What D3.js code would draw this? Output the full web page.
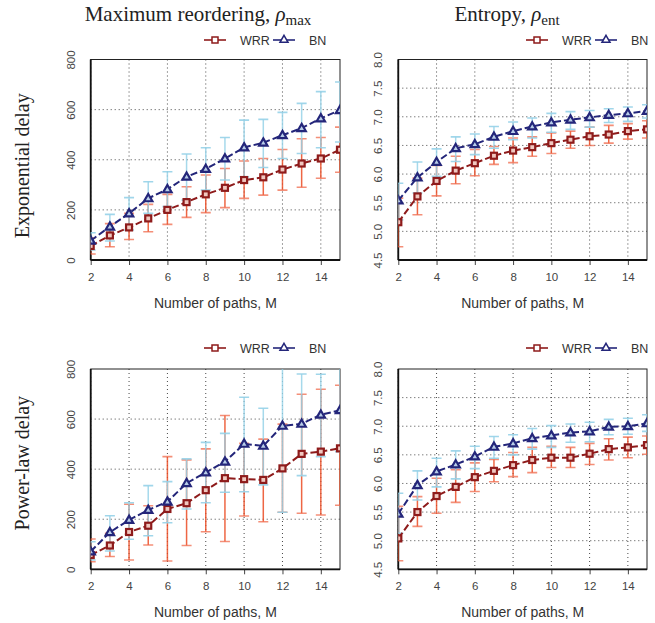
<!DOCTYPE html>
<html><head><meta charset="utf-8">
<script src="https://cdn.jsdelivr.net/npm/d3@7"></script>
<style>
body{margin:0;background:#fff;}
svg{display:block;}
</style></head>
<body><svg id="c" width="655" height="623"></svg>
<script>
const M = [2,3,4,5,6,7,8,9,10,11,12,13,14,15];
const xTicks = [2,4,6,8,10,12,14];
const maxTicks = [0,200,400,600,800];
const entTicks = [4.5,5.0,5.5,6.0,6.5,7.0,7.5,8.0];
const seriesNames = ["WRR","BN"];
const colTitles = ["Maximum reordering, ", "Entropy, "];
const colSubs = ["max","ent"];
const rowTitles = ["Exponential delay","Power-law delay"];
const xLabel = "Number of paths, M";

// Exponential delay, maximum reordering
const expMaxWrr   = [56,98,130,166,200,231,262,288,319,330,361,385,405,440];
const expMaxWrrLo = [24,53,82,113,142,170,189,209,246,259,279,290,326,350];
const expMaxWrrHi = [88,145,186,222,262,292,339,365,395,405,441,484,489,530];
const expMaxBn    = [77,133,186,246,282,332,363,405,449,468,498,526,565,598];
const expMaxBnLo  = [40,76,120,186,213,239,279,319,332,369,405,425,448,471];
const expMaxBnHi  = [109,182,249,312,352,423,448,489,558,561,589,625,672,710];
// Exponential delay, entropy
const expEntWrr   = [5.16,5.61,5.88,6.06,6.19,6.32,6.41,6.47,6.54,6.60,6.66,6.69,6.75,6.78];
const expEntWrrLo = [4.73,5.29,5.62,5.83,5.97,6.17,6.20,6.31,6.36,6.45,6.50,6.54,6.61,6.63];
const expEntWrrHi = [5.58,5.93,6.15,6.31,6.43,6.48,6.63,6.65,6.72,6.75,6.82,6.85,6.88,6.93];
const expEntBn    = [5.54,5.94,6.21,6.45,6.52,6.65,6.75,6.83,6.90,6.95,6.99,7.03,7.06,7.10];
const expEntBnLo  = [5.20,5.67,5.96,6.22,6.34,6.45,6.60,6.63,6.73,6.78,6.82,6.90,6.92,6.98];
const expEntBnHi  = [5.84,6.21,6.44,6.65,6.70,6.83,6.91,6.98,7.06,7.09,7.11,7.14,7.17,7.21];
// Power-law delay, maximum reordering
const powMaxWrr   = [57,95,149,174,241,264,316,364,360,357,403,461,470,483];
const powMaxWrrLo = [30,51,37,97,33,95,150,111,213,190,228,224,217,256];
const powMaxWrrHi = [121,144,260,254,450,437,481,614,503,520,580,699,719,735];
const powMaxBn    = [71,148,197,237,270,344,387,430,501,493,573,581,617,635];
const powMaxBnLo  = [37,73,120,134,186,241,266,308,310,337,228,374,450,470];
const powMaxBnHi  = [110,214,266,334,350,441,507,543,687,643,810,780,779,820];
// Power-law delay, entropy
const powEntWrr   = [5.04,5.50,5.78,5.94,6.11,6.22,6.32,6.41,6.45,6.45,6.52,6.60,6.63,6.67];
const powEntWrrLo = [4.65,5.25,5.48,5.67,5.86,6.03,6.12,6.19,6.28,6.28,6.33,6.41,6.45,6.51];
const powEntWrrHi = [5.60,5.77,6.09,6.24,6.36,6.42,6.54,6.63,6.65,6.63,6.70,6.78,6.81,6.83];
const powEntBn    = [5.47,5.97,6.21,6.33,6.47,6.64,6.70,6.79,6.84,6.89,6.91,6.99,7.00,7.05];
const powEntBnLo  = [5.13,5.71,5.94,6.08,6.26,6.44,6.50,6.60,6.63,6.72,6.73,6.85,6.86,6.91];
const powEntBnHi  = [5.83,6.22,6.44,6.57,6.65,6.82,6.85,6.96,7.01,7.04,7.07,7.12,7.14,7.20];

const svg = d3.select("#c");
const SANS = "'Liberation Sans', Arial, sans-serif";
const SERIF = "'Liberation Serif', 'Times New Roman', serif";
const col = {
  wrrLine:"#8e1b1b", wrrErr:"rgba(235,75,35,0.85)", wrrCap:"rgba(240,105,75,0.75)", wrrFill:"#f0c8c0",
  bnLine:"#24267a", bnErr:"rgba(150,210,232,0.85)", bnCap:"rgba(150,210,232,0.9)", bnFill:"#b8cde8"
};

const panels = [
  {r:0,c:0,dom:[0,800],ticks:maxTicks,fmt:d3.format("d"),s:[[expMaxWrr,expMaxWrrLo,expMaxWrrHi],[expMaxBn,expMaxBnLo,expMaxBnHi]]},
  {r:0,c:1,dom:[4.5,8.0],ticks:entTicks,fmt:d3.format(".1f"),s:[[expEntWrr,expEntWrrLo,expEntWrrHi],[expEntBn,expEntBnLo,expEntBnHi]]},
  {r:1,c:0,dom:[0,800],ticks:maxTicks,fmt:d3.format("d"),s:[[powMaxWrr,powMaxWrrLo,powMaxWrrHi],[powMaxBn,powMaxBnLo,powMaxBnHi]]},
  {r:1,c:1,dom:[4.5,8.0],ticks:entTicks,fmt:d3.format(".1f"),s:[[powEntWrr,powEntWrrLo,powEntWrrHi],[powEntBn,powEntBnLo,powEntBnHi]]}
];
const colX = [[90.7,340],[398.3,647]];
const rowY = [[59.5,260],[369,569.3]];
const titleCx = [198,507];

// column titles
colTitles.forEach((t,i)=>{
  const tx = svg.append("text").attr("x",titleCx[i]).attr("y",21).attr("text-anchor","middle")
    .attr("font-family",SERIF).attr("font-size",21).attr("fill","#222");
  tx.append("tspan").text(t);
  tx.append("tspan").attr("font-style","italic").text("ρ");
  tx.append("tspan").attr("font-size",15).attr("dy",4).text(colSubs[i]);
});
// row titles
rowTitles.forEach((t,i)=>{
  const cy = (rowY[i][0]+rowY[i][1])/2 + (i===0?6:-6);
  svg.append("text").attr("transform",`translate(29,${cy}) rotate(-90)`).attr("text-anchor","middle")
    .attr("font-family",SERIF).attr("font-size",20).attr("fill","#222").text(t);
});

panels.forEach((p,pi)=>{
  const [x0,x1] = colX[p.c], [y0,y1] = rowY[p.r];
  const x = d3.scaleLinear().domain([2,15]).range([x0,x1]);
  const y = d3.scaleLinear().domain(p.dom).range([y1,y0]);
  const g = svg.append("g");
  const clipId = "clip"+pi;
  svg.append("clipPath").attr("id",clipId).append("rect").attr("x",x0).attr("y",y0).attr("width",x1-x0).attr("height",y1-y0);

  // grid
  const grid = g.append("g").attr("stroke","#333").attr("stroke-width",0.9).attr("stroke-dasharray","1,3");
  xTicks.forEach(t=>grid.append("line").attr("x1",x(t)).attr("x2",x(t)).attr("y1",y0).attr("y2",y1));
  p.ticks.slice(1,-1).forEach(t=>grid.append("line").attr("x1",x0).attr("x2",x1).attr("y1",y(t)).attr("y2",y(t)));

  // axes
  const xa = g.append("g").attr("transform",`translate(0,${y1})`)
    .call(d3.axisBottom(x).tickValues(xTicks).tickSize(5).tickPadding(8).tickFormat(d3.format("d")));
  xa.select(".domain").remove();
  xa.selectAll("line").attr("stroke","#444");
  xa.selectAll("text").attr("font-family",SANS).attr("font-size",11.5).attr("fill","#444");
  const ya = g.append("g").attr("transform",`translate(${x0},0)`)
    .call(d3.axisLeft(y).tickValues(p.ticks).tickSize(0).tickPadding(0).tickFormat(p.fmt));
  ya.select(".domain").remove();
  ya.selectAll("text").attr("font-family",SANS).attr("font-size",11.5).attr("fill","#444")
    .attr("text-anchor","middle").attr("dy",null).attr("x",null)
    .attr("transform","translate(-19,0) rotate(-90)")
    .attr("dominant-baseline","middle");
  g.append("rect").attr("x",x0).attr("y",y0).attr("width",x1-x0).attr("height",y1-y0)
    .attr("fill","none").attr("stroke","#222").attr("stroke-width",1);
  g.append("line").attr("x1",x0).attr("x2",x0).attr("y1",y0).attr("y2",y1).attr("stroke","#111").attr("stroke-width",1.8);
  g.append("line").attr("x1",x0).attr("x2",x1).attr("y1",y1).attr("y2",y1).attr("stroke","#111").attr("stroke-width",1.8);

  // x label
  svg.append("text").attr("x",(x0+x1)/2).attr("y",y1+48).attr("text-anchor","middle")
    .attr("font-family",SANS).attr("font-size",14).attr("fill","#333").text(xLabel);

  const data = g.append("g").attr("clip-path",`url(#${clipId})`);
  // error bars
  p.s.forEach((s,si)=>{
    const [mean,lo,hi] = s;
    const ec = si===0?col.wrrErr:col.bnErr, cc = si===0?col.wrrCap:col.bnCap;
    M.forEach((m,i)=>{
      data.append("line").attr("x1",x(m)).attr("x2",x(m)).attr("y1",y(lo[i])).attr("y2",y(hi[i]))
        .attr("stroke",ec).attr("stroke-width",1.5);
      [lo[i],hi[i]].forEach(v=>data.append("line").attr("x1",x(m)-5).attr("x2",x(m)+5).attr("y1",y(v)).attr("y2",y(v))
        .attr("stroke",cc).attr("stroke-width",1.6));
    });
  });
  // lines + markers
  p.s.forEach((s,si)=>{
    const mean = s[0];
    const lc = si===0?col.wrrLine:col.bnLine;
    data.append("path").datum(M.map((m,i)=>[m,mean[i]]))
      .attr("d",d3.line().x(d=>x(d[0])).y(d=>y(d[1])))
      .attr("fill","none").attr("stroke",lc).attr("stroke-width",2).attr("stroke-dasharray","7,3");
    M.forEach((m,i)=>{
      if(si===0){
        data.append("rect").attr("x",x(m)-3).attr("y",y(mean[i])-3).attr("width",6).attr("height",6)
          .attr("fill",col.wrrFill).attr("stroke",lc).attr("stroke-width",2.2);
      } else {
        data.append("path").attr("transform",`translate(${x(m)},${y(mean[i])+0.5})`)
          .attr("d",d3.symbol(d3.symbolTriangle,30)()).attr("fill",col.bnFill).attr("stroke",lc).attr("stroke-width",2.2);
      }
    });
  });

  // legend
  const ly = p.r===0?40:348;
  const lx = p.c===0?204:526;
  const lg = svg.append("g").attr("transform",`translate(${lx},${ly})`);
  const items = [{n:seriesNames[0],dx:0},{n:seriesNames[1],dx:69}];
  items.forEach((it,ii)=>{
    const c = ii===0?col.wrrLine:col.bnLine;
    lg.append("line").attr("x1",it.dx).attr("x2",it.dx+22).attr("y1",0).attr("y2",0).attr("stroke",c).attr("stroke-width",1.6);
    if(ii===0) lg.append("rect").attr("x",it.dx+8).attr("y",-3).attr("width",6).attr("height",6).attr("fill","#fff").attr("stroke",c).attr("stroke-width",1.5);
    else lg.append("path").attr("transform",`translate(${it.dx+11},0)`).attr("d",d3.symbol(d3.symbolTriangle,28)()).attr("fill","#fff").attr("stroke",c).attr("stroke-width",1.5);
    lg.append("text").attr("x",it.dx+36).attr("y",4.5).attr("font-family",SANS).attr("font-size",12.5).attr("fill","#333").text(it.n);
  });
});
</script></body></html>
